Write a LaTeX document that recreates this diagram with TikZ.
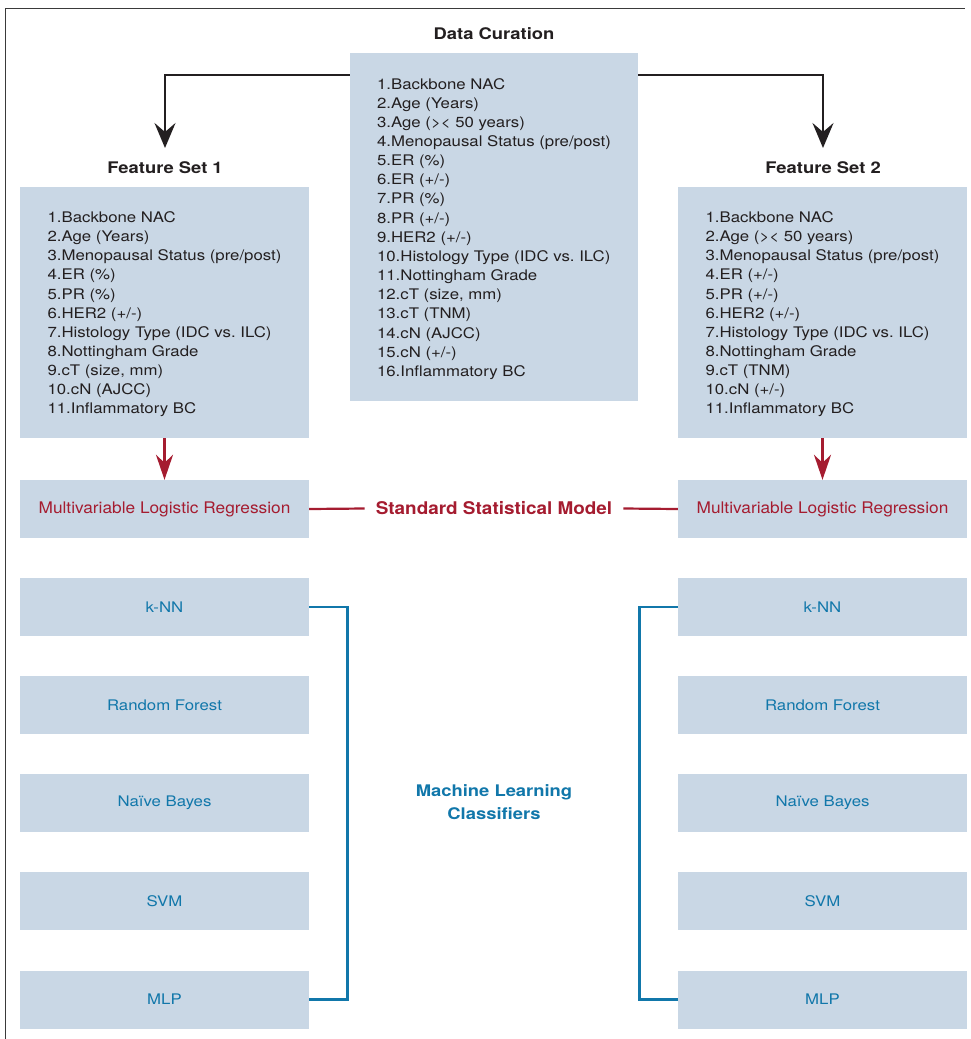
\documentclass[tikz,border=0pt]{standalone}
\usepackage{fontspec}
\setmainfont{TeX Gyre Heros}[FakeStretch=1.15]
\newfontfamily\condfont{TeX Gyre Heros}[FakeStretch=1.08]
\usetikzlibrary{arrows.meta}
\definecolor{boxfill}{HTML}{C9D7E5}
\definecolor{redc}{HTML}{A51C30}
\definecolor{bluec}{HTML}{1177AA}
\definecolor{txt}{HTML}{231F20}
\definecolor{framec}{HTML}{3A3A3A}
\newcommand{\topstrut}{\rule{0pt}{14.6pt}}
\begin{document}
\frenchspacing
\begin{tikzpicture}[x=1pt,y=-1pt,
  box/.style={fill=boxfill, draw=none, inner sep=0pt},
  listbox/.style={box, align=left, inner sep=0pt, text=txt,
    font=\fontsize{14.6}{19.15}\selectfont},
  mlbox/.style={box, minimum width=289pt, minimum height=58pt, text=bluec,
    font=\fontsize{14.6}{17}\selectfont},
  mlrbox/.style={box, minimum width=289pt, minimum height=58pt, text=redc,
    font=\condfont\fontsize{16}{19}\selectfont},
  title/.style={inner sep=0pt, text=txt, font=\fontsize{16}{19}\selectfont\bfseries},
  blkarrow/.style={draw=txt, line width=2.3pt, -{Stealth[length=25pt,width=21pt,inset=9pt]}},
  redarrow/.style={draw=redc, line width=2.2pt, -{Stealth[length=25pt,width=17pt,inset=8pt]}},
  redline/.style={draw=redc, line width=2.2pt},
  blueline/.style={draw=bluec, line width=2.5pt},
  framel/.style={draw=framec, line width=1.4pt}
]
\useasboundingbox (0,0) rectangle (971,1039);
% frame
\draw[framel] (5.5,1039) -- (5.5,8.5) -- (965,8.5);

% titles
\node[title] (dct) at (494,33.5) {Data Curation};
\node[title] (fs1t) at (165,167.5) {Feature Set 1};
\node[title] (fs2t) at (823,167.5) {Feature Set 2};

% list boxes
\node[listbox, minimum width=288pt, minimum height=348pt] (dc) at (494,227) {%
\topstrut 1.Backbone NAC\\
2.Age (Years)\\
3.Age (>< 50 years)\\
4.Menopausal Status (pre/post)\\
5.ER (\%)\\
6.ER (+/-)\\
7.PR (\%)\\
8.PR (+/-)\\
9.HER2 (+/-)\\
10.Histology Type (IDC vs. ILC)\\
11.Nottingham Grade\\
12.cT (size, mm)\\
13.cT (TNM)\\
14.cN (AJCC)\\
15.cN (+/-)\\
16.Inflammatory BC};

\node[listbox, minimum width=289pt, minimum height=251pt] (fs1) at (164.5,312.5) {%
\topstrut 1.Backbone NAC\\
2.Age (Years)\\
3.Menopausal Status (pre/post)\\
4.ER (\%)\\
5.PR (\%)\\
6.HER2 (+/-)\\
7.Histology Type (IDC vs. ILC)\\
8.Nottingham Grade\\
9.cT (size, mm)\\
10.cN (AJCC)\\
11.Inflammatory BC};

\node[listbox, minimum width=289pt, minimum height=251pt] (fs2) at (822.5,312.5) {%
\topstrut 1.Backbone NAC\\
2.Age (>< 50 years)\\
3.Menopausal Status (pre/post)\\
4.ER (+/-)\\
5.PR (+/-)\\
6.HER2 (+/-)\\
7.Histology Type (IDC vs. ILC)\\
8.Nottingham Grade\\
9.cT (TNM)\\
10.cN (+/-)\\
11.Inflammatory BC};

% black arrows
\coordinate (k1) at (165,75);
\coordinate (t1) at (165,148);
\coordinate (k2) at (823,75);
\coordinate (t2) at (823,148);
\draw[blkarrow] (dc.west |- k1) -- (k1) -- (t1);
\draw[blkarrow] (dc.east |- k2) -- (k2) -- (t2);

% MLR boxes
\node[mlrbox] (mlr1) at (164.5,509) {Multivariable Logistic Regression};
\node[mlrbox] (mlr2) at (822.5,509) {Multivariable Logistic Regression};
\node[inner xsep=11pt, inner ysep=0pt, text=redc, font=\condfont\fontsize{17.5}{20}\selectfont\bfseries] (ssm) at (494,508.5) {Standard Statistical Model};
\draw[redarrow] (fs1.south) -- (mlr1.north);
\draw[redarrow] (fs2.south) -- (mlr2.north);
\draw[redline] (mlr1.east) -- (ssm.west);
\draw[redline] (ssm.east) -- (mlr2.west);

% ML boxes
\node[mlbox] (knn1) at (164.5,607) {k-NN};
\node[mlbox] (rf1) at (164.5,705) {Random Forest};
\node[mlbox] (nb1) at (164.5,803) {Naïve Bayes};
\node[mlbox] (svm1) at (164.5,901) {SVM};
\node[mlbox] (mlp1) at (164.5,999.5) {MLP};
\node[mlbox] (knn2) at (822.5,607) {k-NN};
\node[mlbox] (rf2) at (822.5,705) {Random Forest};
\node[mlbox] (nb2) at (822.5,803) {Naïve Bayes};
\node[mlbox] (svm2) at (822.5,901) {SVM};
\node[mlbox] (mlp2) at (822.5,999.5) {MLP};

\node[align=center, inner sep=0pt, text=bluec, font=\fontsize{16}{23}\selectfont\bfseries] (mlc) at (494,802.5) {Machine Learning\\Classifiers};

\coordinate (b1) at (347.5,800);
\coordinate (b2) at (639.5,800);
\draw[blueline] (knn1.east) -| (b1) |- (mlp1.east);
\draw[blueline] (knn2.west) -| (b2) |- (mlp2.west);
\end{tikzpicture}
\end{document}
